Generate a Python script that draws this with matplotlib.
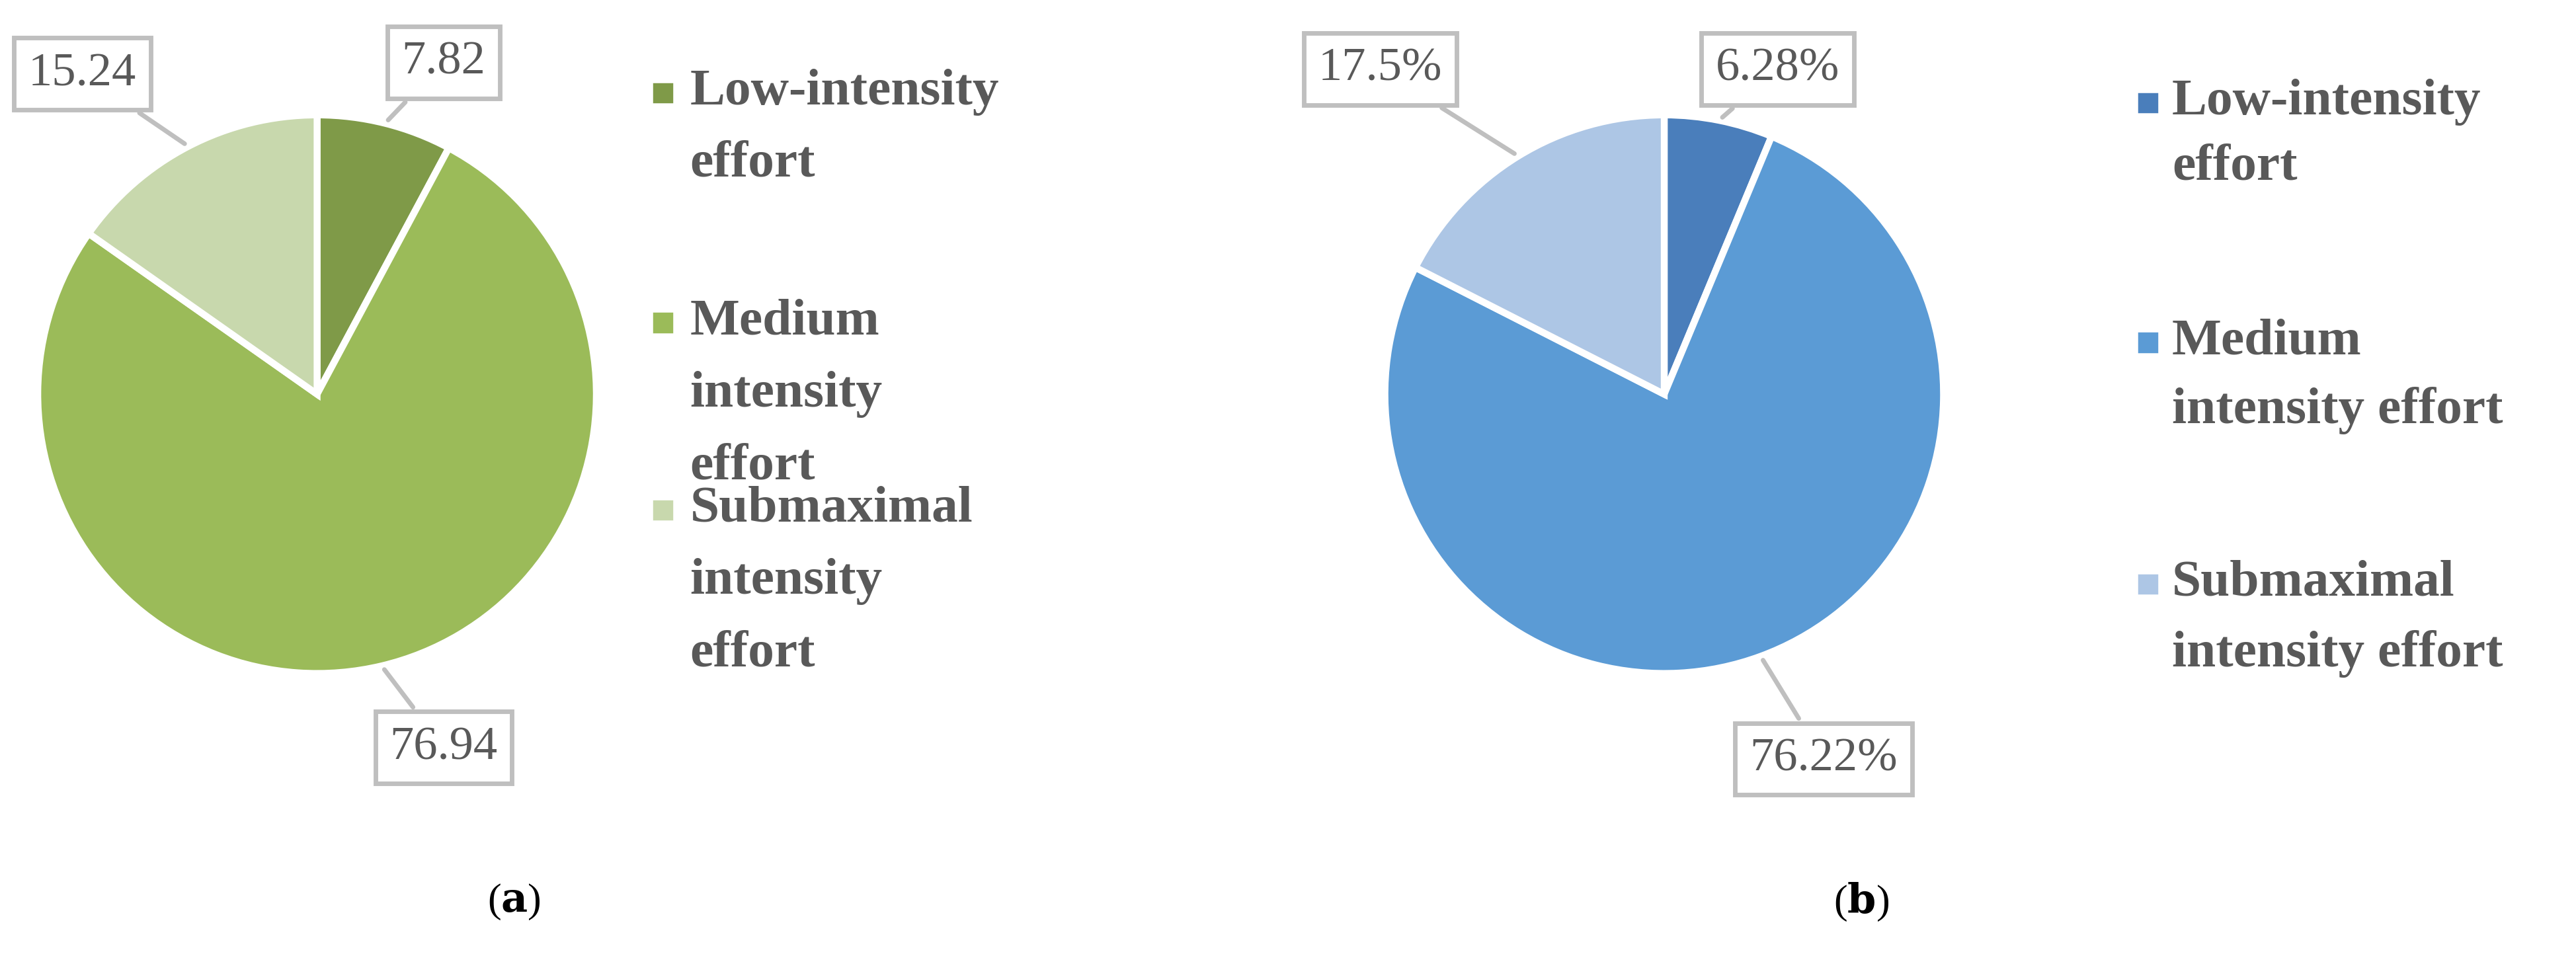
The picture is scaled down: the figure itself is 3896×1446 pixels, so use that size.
import matplotlib.pyplot as plt
from matplotlib.patches import Rectangle
import numpy as np

plt.rcParams['font.family'] = ['Liberation Serif', 'DejaVu Serif']
plt.rcParams['mathtext.fontset'] = 'dejavuserif'

categories = ["Low-intensity effort", "Medium intensity effort", "Submaximal intensity effort"]
values_a = [7.82, 76.94, 15.24]
labels_a = ["7.82", "76.94", "15.24"]
values_b = [6.28, 76.22, 17.5]
labels_b = ["6.28%", "76.22%", "17.5%"]
colors_a = ["#7F9A48", "#9BBB59", "#C8D8AD"]
colors_b = ["#4A7EBB", "#5B9BD5", "#ADC6E5"]

W, H = 1568, 582
fig = plt.figure(figsize=(15.68, 5.82), dpi=248.47)
TXT = "#595959"


def fx(px):
    return px / W


def fy(py):
    return 1 - py / H


def draw_pie(cx, cy, r, values, labels, colors, label_pos):
    ax = fig.add_axes([fx(cx - r), fy(cy + r), 2 * r / W, 2 * r / H])
    wedges, _ = ax.pie(values, colors=colors, startangle=90, counterclock=False,
                       radius=1, wedgeprops=dict(edgecolor="white", linewidth=3))
    ax.set_xlim(-1, 1)
    ax.set_ylim(-1, 1)
    for w, lab, (px, py) in zip(wedges, labels, label_pos):
        ang = np.deg2rad((w.theta1 + w.theta2) / 2)
        tx, ty = (px - cx) / r, (cy - py) / r
        ax.annotate(lab, xy=(1.0 * np.cos(ang), 1.0 * np.sin(ang)), xytext=(tx, ty),
                    ha="center", va="center", fontsize=21, color=TXT,
                    bbox=dict(boxstyle="square,pad=0.3", fc="white", ec="#BFBFBF", lw=2),
                    arrowprops=dict(arrowstyle="-", color="#BFBFBF", lw=2),
                    annotation_clip=False)


def draw_legend(sq_x, txt_x, entries, colors):
    for lines, col in zip(entries, colors):
        y0 = lines[0][1]
        fig.patches.append(Rectangle((fx(sq_x), fy(y0 + 6)), 11 / W, 11 / H,
                                     transform=fig.transFigure, color=col))
        for text, y in lines:
            fig.text(fx(txt_x), fy(y), text, fontsize=23, fontweight="bold",
                     color=TXT, va="center", ha="left")


draw_pie(193, 240, 170, values_a, labels_a, colors_a,
         [(270, 38), (270, 455), (50, 45)])
draw_pie(1013, 240, 170, values_b, labels_b, colors_b,
         [(1082, 42), (1110, 462), (840, 42)])

draw_legend(398, 420,
            [[("Low-intensity", 56), ("effort", 100)],
             [("Medium", 196), ("intensity", 240), ("effort", 284)],
             [("Submaximal", 310), ("intensity", 354), ("effort", 398)]],
            colors_a)
draw_legend(1302, 1322,
            [[("Low-intensity", 62), ("effort", 102)],
             [("Medium", 208), ("intensity effort", 250)],
             [("Submaximal", 355), ("intensity effort", 398)]],
            colors_b)

fig.text(fx(313), fy(549), r"($\mathbf{a}$)", fontsize=18, ha="center", va="center", color="black")
fig.text(fx(1133), fy(549), r"($\mathbf{b}$)", fontsize=18, ha="center", va="center", color="black")

fig.savefig("out.png", dpi=248.47, facecolor="white")
